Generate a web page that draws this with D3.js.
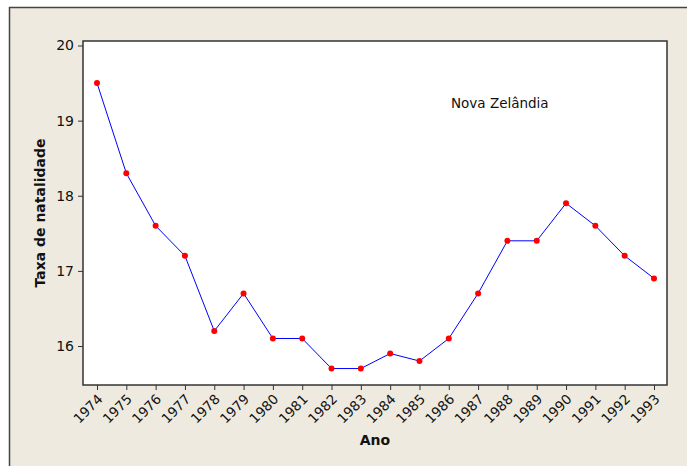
<!DOCTYPE html>
<html>
<head>
<meta charset="utf-8">
<script src="https://cdn.jsdelivr.net/npm/d3@7"></script>
<style>
  body { margin: 0; background: #fff; }
  svg { display: block; }
  text { font-family: Tahoma, "DejaVu Sans", sans-serif; }
</style>
</head>
<body>
<svg id="chart" width="687" height="466"></svg>
<script>
// dados
const anos = [1974, 1975, 1976, 1977, 1978, 1979, 1980, 1981, 1982, 1983,
              1984, 1985, 1986, 1987, 1988, 1989, 1990, 1991, 1992, 1993];
const taxa = [19.5, 18.3, 17.6, 17.2, 16.2, 16.7, 16.1, 16.1, 15.7, 15.7,
              15.9, 15.8, 16.1, 16.7, 17.4, 17.4, 17.9, 17.6, 17.2, 16.9];
const yTicks = [16, 17, 18, 19, 20];
const rotulo = "Nova Zelândia";

const svg = d3.select("#chart");
const W = 687, H = 466;
const frame = { left: 83, top: 41, right: 667, bottom: 385 };

// fundo
svg.append("rect").attr("width", W).attr("height", H).attr("fill", "#fff");
svg.append("rect")
    .attr("x", 9.5).attr("y", 7.5)
    .attr("width", W).attr("height", H)
    .attr("fill", "#eeeae0")
    .attr("stroke", "#444").attr("stroke-width", 1.5);

// escalas
const x = d3.scaleLinear().domain([1974, 1993]).range([97, 654]);
const y = d3.scaleLinear().domain([16, 20]).range([346, 45.5]);

// área do gráfico
svg.append("rect")
    .attr("x", frame.left).attr("y", frame.top)
    .attr("width", frame.right - frame.left)
    .attr("height", frame.bottom - frame.top)
    .attr("fill", "#fff")
    .attr("stroke", "#333").attr("stroke-width", 1.5);

// eixo Y
const yAxis = svg.append("g")
    .attr("transform", `translate(${frame.left},0)`)
    .call(d3.axisLeft(y).tickValues(yTicks).tickSize(5).tickPadding(4).tickFormat(d3.format("d")));
yAxis.select(".domain").remove();
yAxis.selectAll("line").attr("stroke", "#333");
yAxis.selectAll("text").attr("font-size", 14).attr("fill", "#111")
    .style("font-family", "Tahoma, 'DejaVu Sans', sans-serif");

// eixo X
const xAxis = svg.append("g")
    .attr("transform", `translate(0,${frame.bottom})`)
    .call(d3.axisBottom(x).tickValues(anos).tickSize(5).tickFormat(d3.format("d")));
xAxis.select(".domain").remove();
xAxis.selectAll("line").attr("stroke", "#333");
xAxis.selectAll("text")
    .attr("font-size", 13.5).attr("fill", "#111")
    .style("font-family", "Tahoma, 'DejaVu Sans', sans-serif")
    .attr("text-anchor", "end")
    .attr("dy", null).attr("y", 0)
    .attr("transform", "translate(6,15) rotate(-45)");

// linha
const linha = d3.line().x((d, i) => x(anos[i])).y(d => y(d));
svg.append("path")
    .datum(taxa)
    .attr("d", linha)
    .attr("fill", "none")
    .attr("stroke", "#0000ff")
    .attr("stroke-width", 1);

// pontos
svg.selectAll(".pt")
    .data(taxa)
    .join("circle")
    .attr("class", "pt")
    .attr("cx", (d, i) => x(anos[i]))
    .attr("cy", d => y(d))
    .attr("r", 3)
    .attr("fill", "#ff0000");

// rótulos
svg.append("text")
    .attr("x", 451).attr("y", 108)
    .attr("font-size", 13.5).attr("fill", "#111")
    .text(rotulo);

svg.append("text")
    .attr("x", 375).attr("y", 445)
    .attr("text-anchor", "middle")
    .attr("font-size", 14).attr("font-weight", "bold").attr("fill", "#111")
    .text("Ano");

svg.append("text")
    .attr("transform", "translate(45,213) rotate(-90)")
    .attr("text-anchor", "middle")
    .attr("font-size", 14).attr("font-weight", "bold").attr("fill", "#111")
    .text("Taxa de natalidade");
</script>
</body>
</html>
